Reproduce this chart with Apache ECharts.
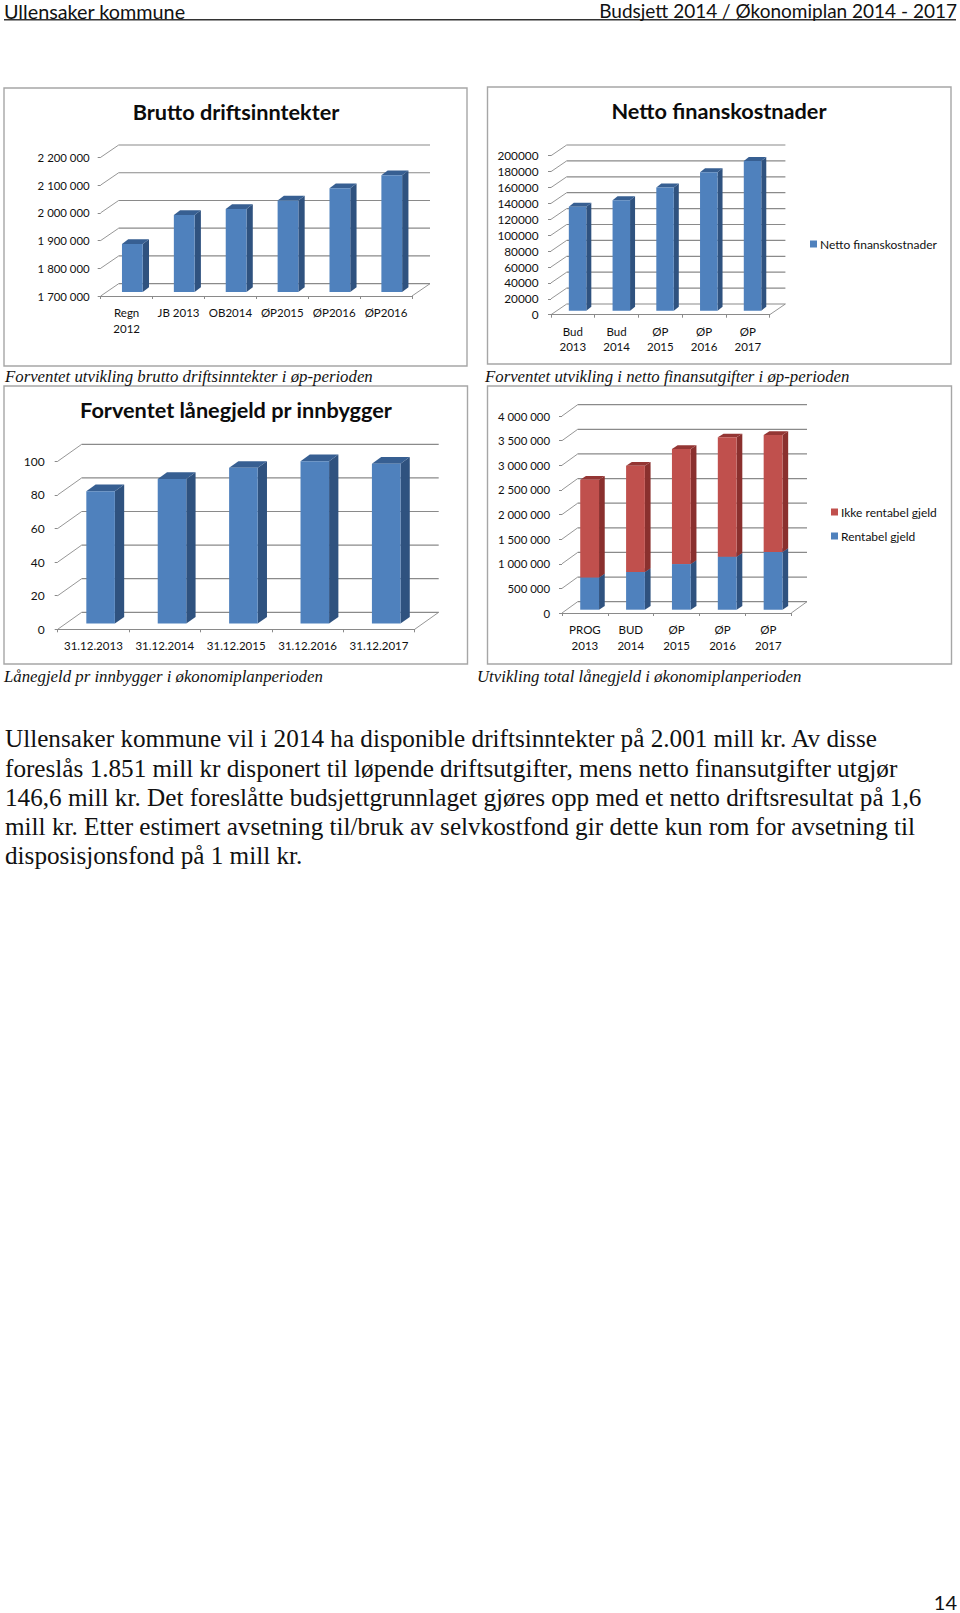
<!DOCTYPE html>
<html>
<head>
<meta charset="utf-8">
<style>html,body{margin:0;padding:0;background:#fff}#c{width:960px;height:1613px}</style>
<script src="https://cdn.jsdelivr.net/npm/echarts@6/dist/echarts.min.js"></script>
</head>
<body>
<div id="c"></div>
<script>
// ---------- data ----------
const grossCategories = ["Regn\n2012", "JB 2013", "OB2014", "ØP2015", "ØP2016", "ØP2016"];
const grossValues = [1873000, 1978000, 1999000, 2030000, 2074000, 2121000];
const grossTicks = [1700000, 1800000, 1900000, 2000000, 2100000, 2200000];

const netCategories = ["Bud\n2013", "Bud\n2014", "ØP\n2015", "ØP\n2016", "ØP\n2017"];
const netValues = [130800, 138800, 155100, 174000, 188300];
const netTicks = [0, 20000, 40000, 60000, 80000, 100000, 120000, 140000, 160000, 180000, 200000];

const perCapitaCategories = ["31.12.2013", "31.12.2014", "31.12.2015", "31.12.2016", "31.12.2017"];
const perCapitaValues = [78.8, 86.1, 92.7, 96.6, 95.2];
const perCapitaTicks = [0, 20, 40, 60, 80, 100];

const debtCategories = ["PROG\n2013", "BUD\n2014", "ØP\n2015", "ØP\n2016", "ØP\n2017"];
const rentableDebt = [656000, 765000, 927000, 1076000, 1171000];
const nonRentableDebt = [1984000, 2159000, 2335000, 2423000, 2375000];
const debtTicks = [0, 500000, 1000000, 1500000, 2000000, 2500000, 3000000, 3500000, 4000000];

const chartTitles = ["Brutto driftsinntekter", "Netto finanskostnader", "Forventet lånegjeld pr innbygger"];
const captions = [
  "Forventet utvikling brutto driftsinntekter i øp-perioden",
  "Forventet utvikling i netto finansutgifter i øp-perioden",
  "Lånegjeld pr innbygger i økonomiplanperioden",
  "Utvikling total lånegjeld i økonomiplanperioden"
];
const bodyLines = [
  "Ullensaker kommune vil i 2014 ha disponible driftsinntekter på 2.001 mill kr. Av disse",
  "foreslås 1.851 mill kr disponert til løpende driftsutgifter, mens netto finansutgifter utgjør",
  "146,6 mill kr. Det foreslåtte budsjettgrunnlaget gjøres opp med et netto driftsresultat på 1,6",
  "mill kr. Etter estimert avsetning til/bruk av selvkostfond gir dette kun rom for avsetning til",
  "disposisjonsfond på 1 mill kr."
];
const headerLeft = "Ullensaker kommune";
const headerRight = "Budsjett 2014 / Økonomiplan 2014 - 2017";
const pageNumber = "14";

// ---------- styling ----------
const SANS = "Lato";
const SERIF = "Liberation Serif";
const BLUE = ["#4F81BD", "#2F527F", "#375F92"];
const RED = ["#C0504D", "#8A302E", "#943634"];
const GRID = "#8A8A8A";
const spaced = v => String(v).replace(/\B(?=(\d{3})+$)/g, " ");

const layouts = [
  {left:100.7, right:412, top:157.3, bottom:296, back:[18,-12.3], off:[5.7,-4], side:[6.3,-4.7], ratio:0.40, margin:11, fmt:spaced, yFont:11.4, xMargin:9, box:[4,88,463,278]},
  {left:551, right:769.7, top:155.7, bottom:314.7, back:[15.7,-10.7], off:[4.7,-4], side:[5,-4], ratio:0.40, margin:12.5, fmt:String, yFont:11.8, xMargin:9, box:[487.5,87,463.5,277]},
  {left:57.7, right:414.7, top:461.3, bottom:629.3, back:[24,-17], off:[7.2,-5.7], side:[9.3,-6.7], ratio:0.40, margin:13, fmt:String, yFont:12, xMargin:8.5, box:[4,386,463.5,278]},
  {left:562, right:791.3, top:416, bottom:613, back:[15.7,-11.3], off:[4.7,-3.3], side:[5.7,-3.7], ratio:0.41, margin:12, fmt:spaced, yFont:11.4, xMargin:9, box:[487.5,386,464,278]}
];

const datasets = [
  {cats:grossCategories, ticks:grossTicks, interval:100000, stacks:[{name:"Brutto driftsinntekter", values:grossValues, colors:BLUE}]},
  {cats:netCategories, ticks:netTicks, interval:20000, stacks:[{name:"Netto finanskostnader", values:netValues, colors:BLUE}]},
  {cats:perCapitaCategories, ticks:perCapitaTicks, interval:20, stacks:[{name:"Forventet lånegjeld", values:perCapitaValues, colors:BLUE}]},
  {cats:debtCategories, ticks:debtTicks, interval:500000, stacks:[
    {name:"Rentabel gjeld", values:rentableDebt, colors:BLUE},
    {name:"Ikke rentabel gjeld", values:nonRentableDebt, colors:RED}
  ]}
];

const grids = [], xAxes = [], yAxes = [], series = [];

datasets.forEach((d, i) => {
  const L = layouts[i];
  grids.push({left:L.left, top:L.top, width:L.right-L.left, height:L.bottom-L.top, containLabel:false});
  xAxes.push({
    type:"category", gridIndex:i, data:d.cats, boundaryGap:true,
    axisLine:{show:true, onZero:false, lineStyle:{color:GRID, width:1}},
    axisTick:{show:true, length:3, alignWithLabel:false, lineStyle:{color:GRID}},
    axisLabel:{interval:0, color:"#111", fontFamily:SANS, fontSize:11.5, lineHeight:15.5, margin:L.xMargin, hideOverlap:false},
    splitLine:{show:false}
  });
  yAxes.push({
    type:"value", gridIndex:i, min:d.ticks[0], max:d.ticks[d.ticks.length-1], interval:d.interval,
    axisLine:{show:false},
    axisTick:{show:true, length:3, lineStyle:{color:GRID}},
    axisLabel:{color:"#111", fontFamily:SANS, fontSize:L.yFont, margin:L.margin, padding:[2,0,0,0], formatter:v => L.fmt(v)},
    splitLine:{show:false}
  });

  // walls and floor: one record per y tick, positioned by the value scale
  series.push({
    type:"custom", xAxisIndex:i, yAxisIndex:i, silent:true, z:1, animation:false,
    encode:{x:0, y:1},
    data:d.ticks.map(t => [0, t]),
    renderItem:(p, api) => {
      const y = api.coord([0, api.value(1)])[1];
      const x0 = p.coordSys.x, x1 = x0 + p.coordSys.width;
      const [bx, by] = L.back;
      const ls = {stroke:GRID, lineWidth:1.2, fill:null};
      const kids = [
        {type:"line", shape:{x1:x0, y1:y, x2:x0+bx, y2:y+by}, style:{stroke:GRID, lineWidth:0.9}},
        {type:"line", shape:{x1:x0+bx, y1:y+by, x2:x1+bx, y2:y+by}, style:ls}
      ];
      if (api.value(1) === d.ticks[0]) {
        kids.push({type:"line", shape:{x1:x1, y1:y, x2:x1+bx, y2:y+by}, style:{stroke:GRID, lineWidth:0.9}});
      }
      return {type:"group", children:kids};
    }
  });

  // 3D bars
  d.stacks.forEach((s, k) => {
    series.push({
      type:"custom", name:s.name, xAxisIndex:i, yAxisIndex:i, z:2+k, animation:false, silent:true,
      itemStyle:{color:s.colors[0]},
      encode:{x:0, y:[1,2]},
      data:s.values.map((v, c) => {
        let base = 0;
        for (let j = 0; j < k; j++) base += d.stacks[j].values[c];
        const low = Math.max(base, d.ticks[0]);
        return [c, low, base + v];
      }),
      renderItem:(p, api) => {
        const a = api.coord([api.value(0), api.value(1)]);
        const b = api.coord([api.value(0), api.value(2)]);
        const w = api.size([1, 0])[0] * L.ratio;
        const l = a[0] + L.off[0] - w/2, r = l + w;
        const yb = a[1] + L.off[1], yt = b[1] + L.off[1];
        const [sx, sy] = L.side;
        const poly = (pts, fill) => ({type:"polygon", shape:{points:pts}, style:{fill, stroke:null}});
        return {type:"group", children:[
          poly([[r,yt],[r+sx,yt+sy],[r+sx,yb+sy],[r,yb]], s.colors[1]),
          poly([[l,yt],[l+sx,yt+sy],[r+sx,yt+sy],[r,yt]], s.colors[2]),
          poly([[l,yt],[r,yt],[r,yb],[l,yb]], s.colors[0])
        ]};
      }
    });
  });
});

// page furniture
const txt = (x, y, text, font, size, extra) => ({
  type:"text", x, y, silent:true,
  style:Object.assign({text, fontFamily:font, fontSize:size, fill:"#111", align:"left", verticalAlign:"middle"}, extra || {})
});
const graphics = [];
layouts.forEach(L => graphics.push({
  type:"rect", silent:true, z:-1,
  shape:{x:L.box[0], y:L.box[1], width:L.box[2], height:L.box[3]},
  style:{fill:"#fff", stroke:"#A6A6A6", lineWidth:1.4}
}));
graphics.push({type:"rect", silent:true, shape:{x:4, y:19, width:952, height:1.6}, style:{fill:"#333"}});
graphics.push(txt(4, 10.5, headerLeft, SANS, 19.8));
graphics.push(txt(957, 10.5, headerRight, SANS, 19, {align:"right"}));
graphics.push(txt(5, 376.7, captions[0], SERIF, 16.8, {fontStyle:"italic"}));
graphics.push(txt(485, 376.7, captions[1], SERIF, 16.8, {fontStyle:"italic"}));
graphics.push(txt(4, 676.2, captions[2], SERIF, 16.8, {fontStyle:"italic"}));
graphics.push(txt(477, 676.2, captions[3], SERIF, 16.8, {fontStyle:"italic"}));
const bodyY = [738.5, 768, 797, 826, 855];
bodyLines.forEach((t, i) => graphics.push(txt(5, bodyY[i], t, SERIF, 25.2)));
graphics.push(txt(957, 1601.5, pageNumber, SANS, 20, {align:"right"}));

const titleCfg = (text, cx, cy) => ({
  text, left:cx, top:cy, padding:0, textAlign:"center", textVerticalAlign:"middle",
  textStyle:{fontFamily:SANS, fontWeight:"bold", fontSize:21.7, color:"#0c0c0c"}
});

const chart = echarts.init(document.getElementById("c"), null, {renderer:"svg", width:960, height:1613});
chart.setOption({
  animation:false,
  backgroundColor:"#fff",
  title:[titleCfg(chartTitles[0], 236, 112), titleCfg(chartTitles[1], 719, 110.5), titleCfg(chartTitles[2], 236, 409.5)],
  grid:grids, xAxis:xAxes, yAxis:yAxes, series,
  legend:[
    {data:["Netto finanskostnader"], left:810, top:238, icon:"rect", itemWidth:7, itemHeight:7, itemGap:12,
     textStyle:{fontFamily:SANS, fontSize:12, color:"#111", padding:[0,0,0,-2]}, selectedMode:false, padding:0},
    {data:["Ikke rentabel gjeld","Rentabel gjeld"], orient:"vertical", left:831, top:506, icon:"rect", itemWidth:7, itemHeight:7, itemGap:12,
     textStyle:{fontFamily:SANS, fontSize:12, color:"#111", padding:[0,0,0,-2]}, selectedMode:false, padding:0}
  ],
  graphic:graphics
});
</script>
</body>
</html>
